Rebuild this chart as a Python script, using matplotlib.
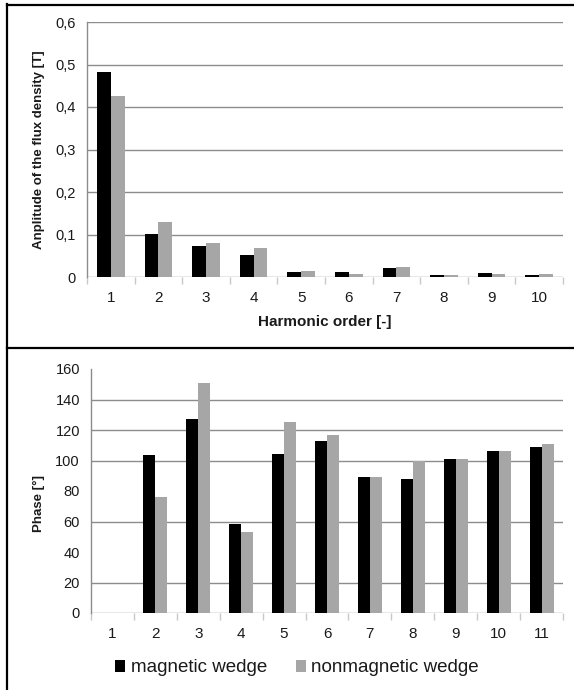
import matplotlib.pyplot as plt
from matplotlib.lines import Line2D
import numpy as np

plt.rcParams["font.family"] = ["Liberation Sans", "DejaVu Sans"]

# Amplitude of the flux density per harmonic order [T]
amp_orders = [1, 2, 3, 4, 5, 6, 7, 8, 9, 10]
amp_magnetic = [0.482, 0.102, 0.072, 0.051, 0.012, 0.012, 0.022, 0.005, 0.009, 0.005]
amp_nonmagnetic = [0.427, 0.129, 0.081, 0.069, 0.014, 0.008, 0.024, 0.004, 0.008, 0.008]
amp_ticks = [0, 0.1, 0.2, 0.3, 0.4, 0.5, 0.6]
amp_ticklabels = ["0", "0,1", "0,2", "0,3", "0,4", "0,5", "0,6"]

# Phase per harmonic order [deg]
phase_orders = [1, 2, 3, 4, 5, 6, 7, 8, 9, 10, 11]
phase_magnetic = [np.nan, 103.7, 127.0, 58.1, 104.3, 113.0, 89.4, 87.9, 101.0, 106.3, 108.6]
phase_nonmagnetic = [np.nan, 76.2, 150.8, 52.9, 125.3, 116.8, 89.4, 100.0, 101.0, 106.3, 111.0]
phase_ticks = [0, 20, 40, 60, 80, 100, 120, 140, 160]

labels = ["magnetic wedge", "nonmagnetic wedge"]
colors = ["#000000", "#a6a6a6"]

W, H = 574, 690
fig = plt.figure(figsize=(W / 100, H / 100), dpi=100)

grid_color = "#8c8c8c"
text_color = "#1a1a1a"


def style_axes(ax, n, ticks, ticklabels, ymax):
    ax.set_xlim(0.5, n + 0.5)
    ax.set_ylim(0, ymax)
    ax.set_yticks(ticks)
    ax.set_yticklabels(ticklabels)
    ax.set_xticks(np.arange(1, n + 1))
    ax.set_xticks(np.arange(0.5, n + 1, 1.0), minor=True)
    ax.tick_params(axis="x", which="major", length=0, pad=10, labelsize=11,
                   labelcolor=text_color)
    ax.tick_params(axis="x", which="minor", length=5, width=1, color="#c8c8c8")
    ax.tick_params(axis="y", length=0, pad=8, labelsize=10.5, labelcolor=text_color)
    for side in ["top", "right", "bottom"]:
        ax.spines[side].set_visible(False)
    ax.spines["left"].set_color(grid_color)
    ax.spines["left"].set_linewidth(1.0)
    ax.yaxis.grid(True, color=grid_color, linewidth=1.0)
    ax.set_axisbelow(True)


def draw_pairs(ax, x, a, b, width):
    x = np.asarray(x, dtype=float)
    bars_a = ax.bar(x - width / 2, a, width=width, color=colors[0], label=labels[0])
    bars_b = ax.bar(x + width / 2, b, width=width, color=colors[1], label=labels[1])
    return bars_a, bars_b


# Top panel: amplitude
ax1 = fig.add_axes([87 / W, 1 - 277 / H, (563 - 87) / W, (277 - 22) / H])
draw_pairs(ax1, amp_orders, amp_magnetic, amp_nonmagnetic, 0.29)
style_axes(ax1, len(amp_orders), amp_ticks, amp_ticklabels, 0.6)
ax1.set_xlabel("Harmonic order [-]", fontsize=11, fontweight="bold",
               color=text_color, labelpad=7)
ax1.set_ylabel("Anplitude of the flux density [T]", fontsize=9.5,
               fontweight="bold", color=text_color)
ax1.yaxis.set_label_coords(-0.088, 0.5)

# Bottom panel: phase
ax2 = fig.add_axes([91 / W, 1 - 613 / H, (563 - 91) / W, (613 - 369) / H])
h1, h2 = draw_pairs(ax2, phase_orders, phase_magnetic, phase_nonmagnetic, 0.28)
style_axes(ax2, len(phase_orders), phase_ticks, [str(t) for t in phase_ticks], 160)
ax2.set_ylabel("Phase [°]", fontsize=9.5, fontweight="bold", color=text_color)
ax2.yaxis.set_label_coords(-0.097, 0.45)
# some gridlines are missing in the phase panel
for val, gl in zip(phase_ticks, ax2.yaxis.get_gridlines()):
    if val in (40, 80, 160):
        gl.set_visible(False)

fig.legend([h1, h2], labels, loc="center", bbox_to_anchor=(297 / W, 1 - 668 / H),
           ncol=2, frameon=False, fontsize=13.5, handlelength=0.55,
           handleheight=0.55, handletextpad=0.27, columnspacing=1.55,
           labelcolor=text_color, borderpad=0, borderaxespad=0)

# panel frame lines
frame_kw = dict(color="black", linewidth=1.6, transform=fig.transFigure)
fig.add_artist(Line2D([7 / W, 7 / W], [0, 1 - 4 / H], **frame_kw))
fig.add_artist(Line2D([7 / W, 1], [1 - 4.5 / H, 1 - 4.5 / H], **frame_kw))
fig.add_artist(Line2D([7 / W, 1], [1 - 348 / H, 1 - 348 / H], **frame_kw))

fig.savefig("out.png", dpi=100)
